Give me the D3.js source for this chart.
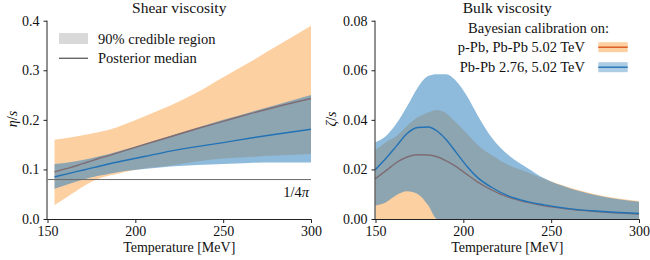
<!DOCTYPE html>
<html>
<head>
<meta charset="utf-8">
<script src="https://cdn.jsdelivr.net/npm/d3@7"></script>
<style>
  body { margin: 0; background: #fff; }
  svg text { font-family: 'Liberation Serif', Tinos, 'Times New Roman', 'DejaVu Serif', serif; fill: #111; }
</style>
</head>
<body>
<script>
'use strict';

// ---- shear viscosity (eta/s) ----
const shearT = [154, 160, 167, 173, 179, 186, 194, 205, 220, 235, 250, 265, 280, 300];
const shearOrangeHi = [0.160, 0.163, 0.167, 0.171, 0.175, 0.181, 0.191, 0.207, 0.229, 0.255, 0.286, 0.316, 0.348, 0.390];
const shearOrangeLo = [0.028, 0.042, 0.058, 0.071, 0.081, 0.088, 0.095, 0.102, 0.108, 0.116, 0.122, 0.125, 0.128, 0.131];
const shearOrangeMed = [0.095, 0.101, 0.108, 0.115, 0.122, 0.129, 0.138, 0.150, 0.166, 0.182, 0.197, 0.212, 0.226, 0.243];
const shearBlueHi = [0.111, 0.113, 0.117, 0.121, 0.126, 0.132, 0.140, 0.152, 0.168, 0.184, 0.200, 0.215, 0.230, 0.250];
const shearBlueLo = [0.061, 0.068, 0.076, 0.082, 0.087, 0.092, 0.097, 0.101, 0.106, 0.109, 0.111, 0.113, 0.114, 0.114];
const shearBlueMed = [0.085, 0.090, 0.096, 0.101, 0.106, 0.112, 0.118, 0.126, 0.137, 0.146, 0.154, 0.163, 0.171, 0.181];
const kssBound = 1 / (4 * Math.PI);

// ---- bulk viscosity (zeta/s) ----
const bulkT = [150, 156, 162, 168, 174, 180, 185, 190, 196, 202, 208, 216, 226, 236, 246, 260, 275, 300];
const bulkOrangeHi = [0.0278, 0.0310, 0.0335, 0.0376, 0.0410, 0.0430, 0.0440, 0.0428, 0.0388, 0.0345, 0.0300, 0.0258, 0.0217, 0.0190, 0.0162, 0.0128, 0.0100, 0.0073];
const bulkOrangeLo = [0, 0, 0, 0, 0, 0, 0, 0, 0, 0, 0, 0, 0, 0, 0, 0, 0, 0];
const bulkOrangeMed = [0.0163, 0.0195, 0.0228, 0.0250, 0.0259, 0.0258, 0.0251, 0.0236, 0.0211, 0.0180, 0.0150, 0.0118, 0.0087, 0.0068, 0.0053, 0.0040, 0.0030, 0.0020];
const bulkBlueHi = [0.0310, 0.0335, 0.0386, 0.0455, 0.0530, 0.0577, 0.0584, 0.0584, 0.0556, 0.0497, 0.0420, 0.0330, 0.0256, 0.0208, 0.0164, 0.0125, 0.0097, 0.0070];
const bulkBlueLo = [0.0054, 0.0068, 0.0097, 0.0112, 0.0101, 0.0055, 0, 0, 0, 0, 0, 0, 0, 0, 0, 0, 0, 0];
const bulkBlueMed = [0.0200, 0.0245, 0.0295, 0.0345, 0.0369, 0.0371, 0.0355, 0.0322, 0.0268, 0.0213, 0.0168, 0.0128, 0.0092, 0.0071, 0.0057, 0.0042, 0.0032, 0.0022];

const xTicks = [150, 200, 250, 300];
const shearTicks = [0.0, 0.1, 0.2, 0.3, 0.4];
const bulkTicks = [0.00, 0.02, 0.04, 0.06, 0.08];
const legendLabels = ["p-Pb, Pb-Pb 5.02 TeV", "Pb-Pb 2.76, 5.02 TeV"];

const serif = "'Liberation Serif', Tinos, 'Times New Roman', 'DejaVu Serif', serif";
const orangeFill = "#fdd0a2";
const orangeLine = "#d9541a";
const blueFill = "rgb(49,130,189)";
const blueAlpha = 0.55;
const blueLine = "#2272b6";

const svg = d3.select("body").append("svg")
  .attr("width", 650)
  .attr("height", 260)
  .attr("font-family", serif);

// draw one panel, return scales
function drawPanel(opts) {
  const x = d3.scaleLinear().domain([150, 300]).range(opts.xRange);
  const y = d3.scaleLinear().domain([0, opts.yMax]).range([219, 20.7]);
  const g = svg.append("g");

  const band = (hi, lo) => d3.area()
    .x((d, i) => x(opts.T[i]))
    .y0((d, i) => y(lo[i]))
    .y1((d, i) => y(hi[i]))
    .curve(d3.curveMonotoneX)(opts.T);
  const line = (vals) => d3.line()
    .x((d, i) => x(opts.T[i]))
    .y((d, i) => y(vals[i]))
    .curve(d3.curveMonotoneX)(opts.T);

  g.append("path").attr("d", band(opts.oHi, opts.oLo)).attr("fill", orangeFill);
  g.append("path").attr("d", line(opts.oMed)).attr("fill", "none")
    .attr("stroke", orangeLine).attr("stroke-width", 1.4);
  g.append("path").attr("d", band(opts.bHi, opts.bLo)).attr("fill", blueFill)
    .attr("fill-opacity", blueAlpha);
  g.append("path").attr("d", line(opts.bMed)).attr("fill", "none")
    .attr("stroke", blueLine).attr("stroke-width", 1.4);

  // axes
  const xAxis = d3.axisBottom(x).tickValues(xTicks).tickSize(3.5).tickPadding(3)
    .tickFormat(d3.format("d"));
  const gx = g.append("g").attr("transform", "translate(0,219.5)").call(xAxis);
  const yAxis = d3.axisLeft(y).tickValues(opts.yTicks).tickSize(3.5).tickPadding(4)
    .tickFormat(d3.format(opts.fmt));
  const gy = g.append("g").attr("transform", "translate(" + (opts.xRange[0] - 0.5) + ",0)").call(yAxis);
  [gx, gy].forEach(a => {
    a.attr("font-family", serif).attr("font-size", 14);
    a.select(".domain").attr("stroke", "#222").attr("stroke-width", 1);
    a.selectAll(".tick line").attr("stroke", "#222");
    a.selectAll("text").attr("fill", "#111");
  });
  gx.select(".domain").attr("d", "M" + (opts.xRange[0] - 1) + ",0H" + (opts.xRange[1] + 0.5));
  gy.select(".domain").attr("d", "M0,219.5V20.7");

  // title and labels
  const cx = (opts.xRange[0] + opts.xRange[1]) / 2;
  g.append("text").attr("x", cx).attr("y", 13).attr("text-anchor", "middle")
    .style("font-size", "15.5px").text(opts.title);
  g.append("text").attr("x", cx).attr("y", 252).attr("text-anchor", "middle")
    .style("font-size", "14px").text("Temperature [MeV]");
  const yl = g.append("text").attr("transform", "translate(" + opts.yLabelX + ",119)rotate(-90)")
    .attr("text-anchor", "middle").style("font-size", "14px");
  yl.append("tspan").style("font-style", "italic").text(opts.sym);
  yl.append("tspan").text("/");
  yl.append("tspan").style("font-style", "italic").text("s");

  return { x: x, y: y, g: g };
}

// left panel
const left = drawPanel({
  xRange: [47.5, 311], yMax: 0.4, T: shearT,
  oHi: shearOrangeHi, oLo: shearOrangeLo, oMed: shearOrangeMed,
  bHi: shearBlueHi, bLo: shearBlueLo, bMed: shearBlueMed,
  yTicks: shearTicks, fmt: ".1f", title: "Shear viscosity", sym: "η", yLabelX: 17
});

// 1/4pi line
left.g.append("line")
  .attr("x1", left.x(150)).attr("x2", left.x(300))
  .attr("y1", left.y(kssBound)).attr("y2", left.y(kssBound))
  .attr("stroke", "#6a6a6a").attr("stroke-width", 1);
const kl = left.g.append("text").attr("x", left.x(300) - 2).attr("y", 197)
  .attr("text-anchor", "end").style("font-size", "14.5px").attr("fill", "#666");
kl.append("tspan").text("1/4");
kl.append("tspan").style("font-style", "italic").text("π");

// left legend
left.g.append("rect").attr("x", 59).attr("y", 33).attr("width", 29).attr("height", 11)
  .attr("fill", "#d9d9d9");
left.g.append("text").attr("x", 98).attr("y", 44).style("font-size", "14.5px")
  .text("90% credible region");
left.g.append("line").attr("x1", 59).attr("x2", 88).attr("y1", 58.3).attr("y2", 58.3)
  .attr("stroke", "#666").attr("stroke-width", 1.4);
left.g.append("text").attr("x", 98).attr("y", 62.7).style("font-size", "14.5px")
  .text("Posterior median");

// right panel
const right = drawPanel({
  xRange: [375.5, 639], yMax: 0.08, T: bulkT,
  oHi: bulkOrangeHi, oLo: bulkOrangeLo, oMed: bulkOrangeMed,
  bHi: bulkBlueHi, bLo: bulkBlueLo, bMed: bulkBlueMed,
  yTicks: bulkTicks, fmt: ".2f", title: "Bulk viscosity", sym: "ζ", yLabelX: 336
});

// right legend
right.g.append("text").attr("x", 538.5).attr("y", 32.7).attr("text-anchor", "middle")
  .style("font-size", "14.5px").text("Bayesian calibration on:");
const legendColors = [[orangeFill, 1, orangeLine], [blueFill, 0.4, blueLine]];
legendLabels.forEach((lab, i) => {
  const yb = 51.7 + i * 20;
  right.g.append("text").attr("x", 585).attr("y", yb).attr("text-anchor", "end")
    .style("font-size", "14.5px").text(lab);
  right.g.append("rect").attr("x", 598.3).attr("y", yb - 9.5).attr("width", 29.4).attr("height", 10)
    .attr("fill", legendColors[i][0]).attr("fill-opacity", legendColors[i][1]);
  right.g.append("line").attr("x1", 598.3).attr("x2", 627.7).attr("y1", yb - 4.5).attr("y2", yb - 4.5)
    .attr("stroke", legendColors[i][2]).attr("stroke-width", 1.4);
});
</script>
</body>
</html>
